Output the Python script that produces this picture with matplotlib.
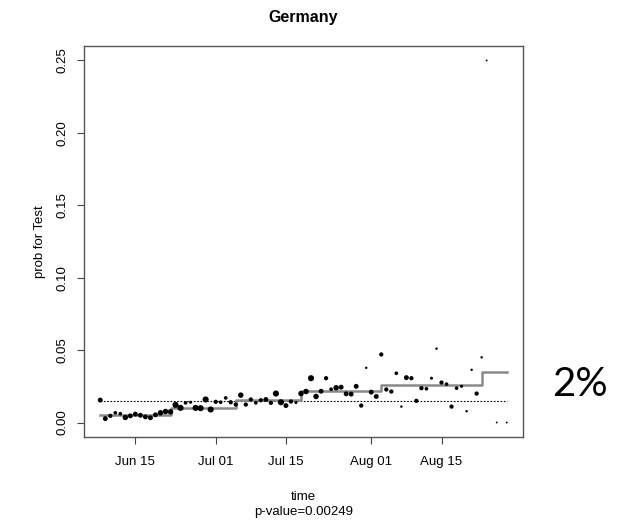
import numpy as np
import pandas as pd
import matplotlib
matplotlib.use("Agg")
import matplotlib.pyplot as plt
import matplotlib.dates as mdates

plt.rcParams['font.family'] = ['Liberation Sans', 'DejaVu Sans']

# daily share of positive tests
days = list(pd.date_range("2020-06-08", "2020-08-24")) + [pd.Timestamp("2020-08-26"), pd.Timestamp("2020-08-28")]
prob = [0.0155, 0.0027, 0.0046, 0.0067, 0.0061, 0.0035, 0.0046, 0.0058, 0.0050, 0.0039,
        0.0033, 0.0053, 0.0067, 0.0076, 0.0074, 0.0122, 0.0101, 0.0136, 0.0140, 0.0101,
        0.0099, 0.0159, 0.0090, 0.0143, 0.0140, 0.0170, 0.0140, 0.0124, 0.0189, 0.0124,
        0.0159, 0.0136, 0.0154, 0.0159, 0.0136, 0.0200, 0.0140, 0.0117, 0.0145, 0.0138,
        0.0200, 0.0214, 0.0306, 0.0180, 0.0216, 0.0306, 0.0230, 0.0240, 0.0244, 0.0198,
        0.0196, 0.0250, 0.0117, 0.0378, 0.0210, 0.0180, 0.0470, 0.0228, 0.0214, 0.0340,
        0.0110, 0.0310, 0.0306, 0.0150, 0.0237, 0.0233, 0.0306, 0.0510, 0.0276, 0.0265,
        0.0110, 0.0237, 0.0250, 0.0078, 0.0364, 0.0200, 0.0450, 0.2500, 0.0, 0.0]
# relative number of tests per day (drives the dot size)
weight = [4, 4, 3.5, 3, 3, 4.5, 4, 4, 4, 4,
          4, 4, 4.5, 4.5, 4.5, 5, 5, 3, 2.5, 5,
          5, 5, 5, 3.5, 3, 3, 3.5, 3.5, 4.5, 3.5,
          3.5, 3, 3.5, 4, 3.5, 5, 5, 4, 3.5, 2.5,
          4.5, 4.5, 5, 4.5, 4, 3.5, 3, 4.5, 4, 4,
          4, 4, 3.5, 2, 4, 4, 3.5, 3.5, 3.5, 3,
          2, 4, 3.5, 3.5, 3.5, 3, 2.5, 2, 3.5, 3,
          3.5, 3, 2.5, 2, 2, 3.5, 2, 1.5, 1.5, 1.5]

overall = 0.0152

# piecewise constant fit
step_dates = pd.to_datetime(["2020-06-08", "2020-06-22", "2020-07-05", "2020-07-18",
                             "2020-08-03", "2020-08-23", "2020-08-28"])
step_vals = [0.0055, 0.0101, 0.0154, 0.0217, 0.0260, 0.0350]

tick_dates = pd.to_datetime(["2020-06-15", "2020-07-01", "2020-07-15", "2020-08-01", "2020-08-15"])
tick_labels = ["Jun 15", "Jul 01", "Jul 15", "Aug 01", "Aug 15"]

fig = plt.figure(figsize=(6.26, 5.2), dpi=100)
ax = fig.add_axes([84 / 626, 1 - 437 / 520, (523 - 84) / 626, (437 - 46) / 520])

x = mdates.date2num(days)
sx = mdates.date2num(step_dates)

ax.scatter(x, prob, s=(np.array(weight) * 0.88) ** 2, c='black', linewidths=0, zorder=3)
ax.plot([x[0], x[-1]], [overall, overall], color='black', ls=(0, (1.5, 1.5)), lw=0.8, zorder=2)
ax.step(sx, step_vals + [step_vals[-1]], where='post', color='#8a8a8a', lw=1.8, zorder=2)

# R-style 4% padding around the data range
x0, x1 = x.min(), x.max()
ax.set_xlim(x0 - 0.04 * (x1 - x0), x1 + 0.04 * (x1 - x0))
ax.set_ylim(-0.01, 0.26)

ax.set_xticks(mdates.date2num(tick_dates))
ax.set_xticklabels(tick_labels)
ax.set_yticks([0.0, 0.05, 0.10, 0.15, 0.20, 0.25])
ax.set_yticklabels(["0.00", "0.05", "0.10", "0.15", "0.20", "0.25"], rotation=90, va='center')
ax.tick_params(axis='x', length=5, width=0.8, color='#444444', labelsize=9.5, pad=9)
ax.tick_params(axis='y', length=5, width=0.8, color='#444444', labelsize=9.5, pad=6)
for sp in ax.spines.values():
    sp.set_color('#555555')
    sp.set_linewidth(1.0)

ax.set_title("Germany", fontsize=11.5, fontweight='bold', pad=17)
ax.set_ylabel("prob for Test", fontsize=9.5, labelpad=8)
ax.set_xlabel("time\np-value=0.00249", fontsize=9.5, labelpad=16, linespacing=1.4)

fig.text(580 / 626, 1 - 385 / 520, "2%", fontsize=29, family=['Lato', 'DejaVu Sans'],
         ha='center', va='center')

fig.savefig("out.png", dpi=100)
